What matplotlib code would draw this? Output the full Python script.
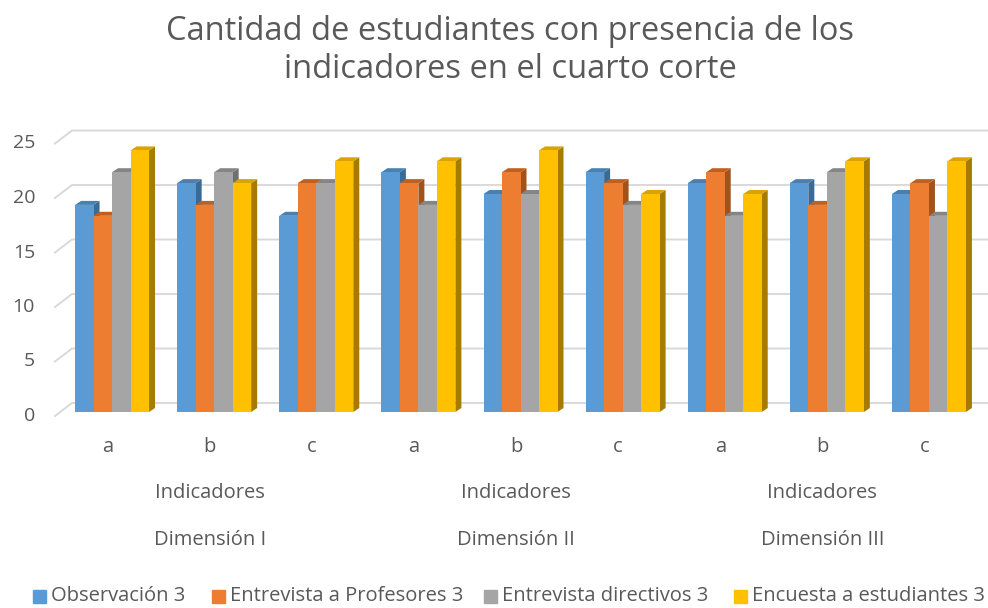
import matplotlib
matplotlib.use("Agg")
import matplotlib.pyplot as plt
from matplotlib.patches import Polygon
import numpy as np

# ---- data ----
categories = ["a", "b", "c", "a", "b", "c", "a", "b", "c"]
groups = ["Dimensión I", "Dimensión II", "Dimensión III"]
group_sub = "Indicadores"
series_names = ["Observación 3", "Entrevista a Profesores 3",
                "Entrevista directivos 3", "Encuesta a estudiantes 3"]
observacion = [19, 21, 18, 22, 20, 22, 21, 21, 20]
profesores = [18, 19, 21, 21, 22, 21, 22, 19, 21]
directivos = [22, 22, 21, 19, 20, 19, 18, 22, 18]
encuesta = [24, 21, 23, 23, 24, 20, 20, 23, 23]
yticks = [0, 5, 10, 15, 20, 25]
title = "Cantidad de estudiantes con presencia de los\nindicadores en el cuarto corte"

series = [observacion, profesores, directivos, encuesta]
front = ["#5B9BD5", "#ED7D31", "#A5A5A5", "#FFC000"]
topc = ["#4A7FB0", "#C0601F", "#858585", "#D9A300"]
sidec = ["#3A6A96", "#A3521A", "#707070", "#A67C00"]
TXT = "#595959"
FONT = "Open Sans"
FS = 14.5

W, H = 988, 608
fig = plt.figure(figsize=(W / 100, H / 100), dpi=100)

# bar plane in pixels
x_left_px, x_right_px = 61, 980
y0_px, y25_px = 412, 139.5
ax = fig.add_axes([x_left_px / W, (H - y0_px) / H,
                   (x_right_px - x_left_px) / W, (y0_px - y25_px) / H])
n = len(categories)
ax.set_xlim(-0.5, n - 0.5)
ax.set_ylim(0, 25)
ax.axis("off")

pxx = (x_right_px - x_left_px) / n   # px per category
pxy = (y0_px - y25_px) / 25          # px per unit

# gridlines (back wall + diagonal)
for v in yticks:
    xf = -0.5 - 6 / pxx
    yf = v - 4 / pxy
    xb = -0.5 + 11 / pxx
    yb = v + 9 / pxy
    xe = -0.5 + (W - x_left_px) / pxx
    ax.plot([xf, xb, xe], [yf, yb, yb], color="#D9D9D9", lw=1.4,
            clip_on=False, zorder=0, solid_joinstyle="miter")
    fig.text(35 / W, 1 - (y0_px + 4 - v * pxy) / H, str(v), ha="right",
             va="center", fontsize=14, color=TXT, family=FONT)

bw = 18.5 / pxx
dx = 6 / pxx
dy = 4 / pxy
offs = (np.arange(4) - 1.5) * bw
for i in range(n):
    for k in range(4):
        v = series[k][i]
        xc = i + offs[k]
        xl, xr = xc - bw / 2, xc + bw / 2
        z = 2 + i * 10 + k * 2
        ax.bar(xc, v, width=bw, color=front[k], zorder=z + 1,
               edgecolor="none")
        ax.add_patch(Polygon([(xr, 0), (xr, v), (xr + dx, v + dy), (xr + dx, dy)],
                             closed=True, facecolor=sidec[k], edgecolor="none",
                             zorder=z))
        ax.add_patch(Polygon([(xl, v), (xr, v), (xr + dx, v + dy), (xl + dx, v + dy)],
                             closed=True, facecolor=topc[k], edgecolor="none",
                             zorder=z))

# category labels
lab_shift = -4.5
for i, c in enumerate(categories):
    xp = x_left_px + (i + 0.5) * pxx + lab_shift
    fig.text(xp / W, 1 - 447 / H, c, ha="center", va="center",
             fontsize=FS, color=TXT, family=FONT)
for g, name in enumerate(groups):
    xp = x_left_px + (3 * g + 1.5) * pxx + lab_shift
    fig.text(xp / W, 1 - 493 / H, group_sub, ha="center", va="center",
             fontsize=FS, color=TXT, family=FONT)
    fig.text(xp / W, 1 - 540 / H, name, ha="center", va="center",
             fontsize=FS, color=TXT, family=FONT)

# title
fig.text(510 / W, 1 - 50 / H, title, ha="center", va="center",
         fontsize=23.5, color=TXT, family=FONT, linespacing=1.2)

# legend
leg_x = [33, 212, 484, 734]
for k, name in enumerate(series_names):
    fig.patches.append(plt.Rectangle(((leg_x[k]) / W, 1 - 603 / H), 13 / W, 13 / H,
                                     transform=fig.transFigure, color=front[k]))
    fig.text((leg_x[k] + 18) / W, 1 - 596 / H, name, ha="left", va="center",
             fontsize=14.5, color=TXT, family=FONT)

fig.savefig("out.png", dpi=100)
